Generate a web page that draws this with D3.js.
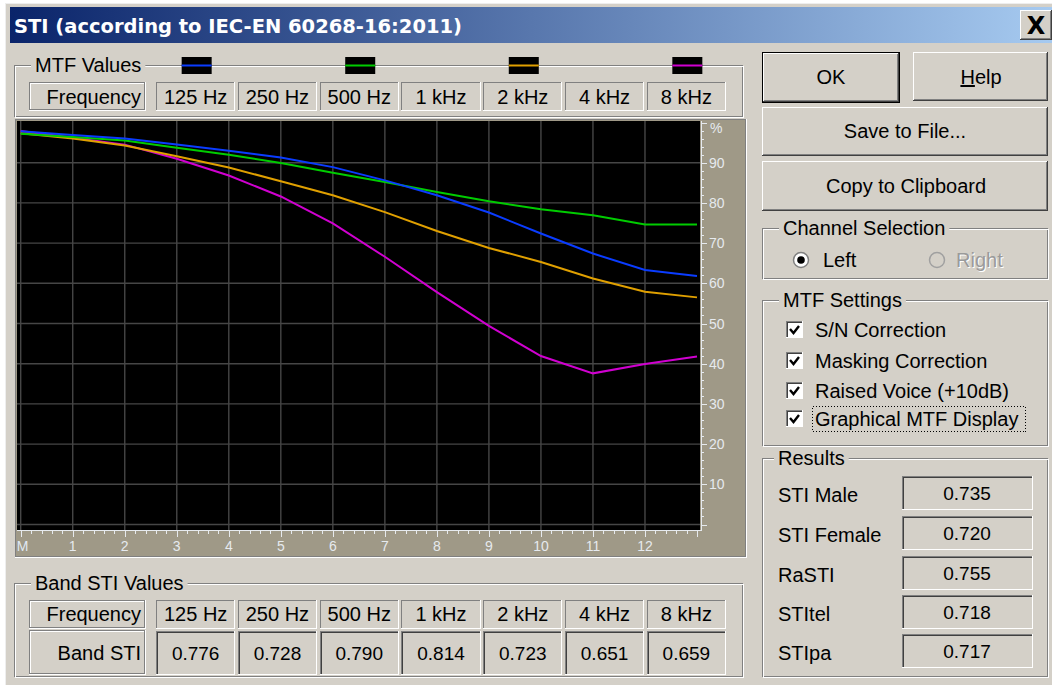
<!DOCTYPE html>
<html><head><meta charset="utf-8">
<script src="https://cdn.jsdelivr.net/npm/d3@7"></script>
<style>
html,body{margin:0;padding:0;background:#fff;overflow:hidden;}
svg{display:block;font-family:"Liberation Sans",Arial,sans-serif;}
</style></head><body>
<svg id="c" width="1052" height="685"></svg>
<script>
// ---------------- DATA ----------------
const titleText = "STI (according to IEC-EN 60268-16:2011)";
const bandLabels = ["125 Hz","250 Hz","500 Hz","1 kHz","2 kHz","4 kHz","8 kHz"];
const modIndex = [0,1,2,3,4,5,6,7,8,9,10,11,12,13];
const modTickLabels = ["M","1","2","3","4","5","6","7","8","9","10","11","12"];
const mtf125 = [97.8,96.9,96.0,94.5,93.0,91.3,88.9,85.6,81.9,77.6,72.4,67.4,63.3,61.8];
const mtf500 = [97.2,96.4,95.5,93.7,92.0,89.9,87.5,85.2,82.7,80.4,78.4,76.9,74.6,74.6];
const mtf2k  = [97.3,96.0,94.3,91.6,88.8,85.4,81.9,77.7,73.0,68.8,65.3,61.2,57.9,56.5];
const mtf8k  = [97.9,96.2,94.5,91.0,86.8,81.6,74.9,66.6,57.8,49.4,41.9,37.6,39.9,41.8];
const seriesBands = ["125 Hz","500 Hz","2 kHz","8 kHz"];
const yTickValues = [10,20,30,40,50,60,70,80,90];
const bandSTI = [0.776,0.728,0.790,0.814,0.723,0.651,0.659];
const resultLabels = ["STI Male","STI Female","RaSTI","STItel","STIpa"];
const resultValues = [0.735,0.720,0.755,0.718,0.717];
const mtfOptions = ["S/N Correction","Masking Correction","Raised Voice (+10dB)","Graphical MTF Display"];

// ---------------- STYLE ----------------
const seriesColors = ["#0a3cff","#00cc00","#e0a000","#d000d0"];
const BG = "#d4d0c8", GR = "#808080", DG = "#404040", WH = "#ffffff";
const BEIGE = "#9f9987", AXC = "#e6eaee";
const FONT = 20;

const svg = d3.select("#c");
const g = svg.append("g");

function hl(x1,x2,y,c,p){ (p||g).append("line").attr("x1",x1).attr("x2",x2).attr("y1",y).attr("y2",y).attr("stroke",c).attr("stroke-width",1).attr("shape-rendering","crispEdges"); }
function vl(x,y1,y2,c,p){ (p||g).append("line").attr("x1",x).attr("x2",x).attr("y1",y1).attr("y2",y2).attr("stroke",c).attr("stroke-width",1).attr("shape-rendering","crispEdges"); }
function rect(x,y,w,h,fill,p){ return (p||g).append("rect").attr("x",x).attr("y",y).attr("width",w).attr("height",h).attr("fill",fill); }
function text(x,y,s,opts){
  opts = opts||{};
  const t = (opts.p||g).append("text").attr("x",x).attr("y",y).text(s)
    .attr("font-size",opts.size||FONT).attr("fill",opts.fill||"#000")
    .attr("text-anchor",opts.anchor||"start");
  if(opts.family) t.attr("font-family",opts.family);
  if(opts.weight) t.attr("font-weight",opts.weight);
  return t;
}
function raised(x,y,w,h,dflt){
  rect(x,y,w,h,BG);
  if(dflt){
    g.append("rect").attr("x",x+0.5).attr("y",y+0.5).attr("width",w-1).attr("height",h-1).attr("fill","none").attr("stroke","#000");
    x+=1;y+=1;w-=2;h-=2;
  }
  hl(x,x+w-1,y+0.5,WH); vl(x+0.5,y,y+h-1,WH);
  hl(x,x+w,y+h-0.5,DG); vl(x+w-0.5,y,y+h,DG);
  hl(x+1,x+w-1,y+h-1.5,GR); vl(x+w-1.5,y+1,y+h-1,GR);
}
function sunken(x,y,w,h,fill){
  rect(x,y,w,h,fill);
  hl(x,x+w,y+0.5,GR); vl(x+0.5,y,y+h,GR);
  hl(x+1,x+w-1,y+1.5,DG); vl(x+1.5,y+1,y+h-1,DG);
  hl(x,x+w,y+h-0.5,WH); vl(x+w-0.5,y,y+h,WH);
}
function thinCell(x,y,w,h,inner){
  hl(x,x+w,y+0.5,GR); vl(x+0.5,y,y+h,GR);
  hl(x,x+w,y+h-0.5,WH); vl(x+w-0.5,y,y+h,WH);
  if(inner){ hl(x+1,x+w-1,y+1.5,WH); vl(x+1.5,y+1,y+h-1,WH); hl(x+1,x+w-1,y+h-1.5,GR); vl(x+w-1.5,y+1,y+h-1,GR);}
}
function groupBox(x,y,w,h,label,lx){
  g.append("rect").attr("x",x+0.5).attr("y",y+0.5).attr("width",w-2).attr("height",h-2).attr("fill","none").attr("stroke",GR);
  g.append("rect").attr("x",x+1.5).attr("y",y+1.5).attr("width",w-2).attr("height",h-2).attr("fill","none").attr("stroke",WH);
  const t = text(lx,y+7,label);
  const bb = t.node().getBBox();
  g.insert("rect", function(){return t.node();}).attr("x",bb.x-4).attr("y",bb.y).attr("width",bb.width+8).attr("height",bb.height).attr("fill",BG);
}

// ---------------- WINDOW ----------------
rect(5,3,1047,682,BG);
hl(5,1052,3.5,"#eeeeee"); vl(5.5,3,685,"#eeeeee");
const grad = svg.append("defs").append("linearGradient").attr("id","tb").attr("x1","0").attr("x2","1").attr("y1","0").attr("y2","0");
grad.append("stop").attr("offset","0").attr("stop-color","#0a246a");
grad.append("stop").attr("offset","1").attr("stop-color","#a6caf0");
rect(10,7,1042,36,"url(#tb)");
text(14,33,titleText,{fill:"#fff",weight:"bold",size:20,family:"DejaVu Sans"})
  .attr("textLength",448).attr("lengthAdjust","spacingAndGlyphs");
raised(1020,10,32,30,false);
text(1036,34,"X",{weight:"bold",size:24,anchor:"middle",family:"DejaVu Sans"});

// ---------------- MTF VALUES HEADER ----------------
groupBox(14,65,730,53,"MTF Values",35);
const bandX = d3.scaleBand().domain(bandLabels).range([156,726]).paddingInner(0.03);
seriesBands.forEach((b,i)=>{
  const cx = bandX(b)+bandX.bandwidth()/2;
  rect(cx-14,57,30,17,"#000");
  g.append("line").attr("x1",cx-14).attr("x2",cx+16).attr("y1",65.5).attr("y2",65.5).attr("stroke",seriesColors[i]).attr("stroke-width",2);
});
thinCell(29,82,117,29,true);
text(141,104,"Frequency",{anchor:"end"});
bandLabels.forEach(b=>{
  thinCell(bandX(b),82,bandX.bandwidth(),29);
  text(bandX(b)+bandX.bandwidth()/2,104,b,{anchor:"middle"});
});

// ---------------- CHART ----------------
rect(16,120,729,436,BEIGE);
hl(15,746,119.5,GR); vl(15.5,119,557,GR);
hl(15,746,556.5,GR); vl(745.5,119,557,GR);
hl(15,747,557.5,WH); vl(746.5,119,558,WH);
const PL=17, PR=700, PT=121, PB=530;
rect(PL,PT,PR-PL,PB-PT,"#000");
const x = d3.scaleLinear().domain([0,13]).range([20.7,697]);
const y = d3.scaleLinear().domain([0,100]).range([524.5,122.5]);
const grid = g.append("g");
d3.range(0,13).forEach(i=>{
  grid.append("line").attr("x1",x(i)).attr("x2",x(i)).attr("y1",PT).attr("y2",PB).attr("stroke","#464646").attr("stroke-width",1.4);
});
[0].concat(yTickValues).forEach(v=>{
  grid.append("line").attr("x1",PL).attr("x2",PR).attr("y1",y(v)).attr("y2",y(v)).attr("stroke","#464646").attr("stroke-width",1.4);
});
svg.append("defs").append("clipPath").attr("id","pc").append("rect").attr("x",PL).attr("y",PT).attr("width",PR-PL+1).attr("height",PB-PT);
const lineGen = d3.line().x((d,i)=>x(modIndex[i])).y(d=>y(d));
const lines = g.append("g").attr("clip-path","url(#pc)");
[[mtf8k,3],[mtf2k,2],[mtf500,1],[mtf125,0]].forEach(([s,ci])=>{
  lines.append("path").datum(s).attr("d",lineGen).attr("fill","none").attr("stroke",seriesColors[ci]).attr("stroke-width",2);
});

// bottom axis
const bAxis = g.append("g");
hl(PL,PR+2,PB+0.5,AXC,bAxis);
d3.range(0,13.001,0.2).forEach(v=>{
  const major = Math.abs(v-Math.round(v))<1e-6;
  vl(Math.round(x(v))+0.5,PB+1,PB+(major?7:4),AXC,bAxis);
});
modTickLabels.forEach((l,i)=>{
  text(x(i)+(i===0?2:0),551,l,{anchor:"middle",size:14,fill:i===0?"#dfe8f4":AXC,p:bAxis});
});
// right axis
const rAxis = g.append("g");
vl(PR+1.5,PT,PB+1,AXC,rAxis);
d3.range(0,101,2).forEach(v=>{
  const major = v%10===0;
  hl(PR+2,PR+(major?7:4),Math.round(y(v))+0.5,AXC,rAxis);
});
yTickValues.forEach(v=>{ text(709,y(v)+5,String(v),{size:14,fill:AXC,p:rAxis}); });
text(710,133,"%",{size:14,fill:AXC,p:rAxis});

// ---------------- BAND STI VALUES ----------------
groupBox(14,583,730,95,"Band STI Values",35);
thinCell(29,600,117,29,true);
text(141,621,"Frequency",{anchor:"end"});
thinCell(29,630,117,45,true);
text(141,660,"Band STI",{anchor:"end"});
bandLabels.forEach((b,i)=>{
  thinCell(bandX(b),600,bandX.bandwidth(),29);
  text(bandX(b)+bandX.bandwidth()/2,621,b,{anchor:"middle"});
  sunken(bandX(b),631,bandX.bandwidth(),44,BG);
  text(bandX(b)+bandX.bandwidth()/2,660,bandSTI[i].toFixed(3),{anchor:"middle",size:19});
});

// ---------------- RIGHT PANEL ----------------
raised(762,52,138,51,true);
text(831,84,"OK",{anchor:"middle"});
raised(913,52,135,49,false);
const help = text(981,84,"",{anchor:"middle"});
help.append("tspan").attr("text-decoration","underline").text("H");
help.append("tspan").text("elp");
raised(762,107,286,49,false);
text(905,138,"Save to File...",{anchor:"middle"});
raised(762,161,286,50,false);
text(906,193,"Copy to Clipboard",{anchor:"middle"});

groupBox(762,228,287,52,"Channel Selection",783);
g.append("circle").attr("cx",801).attr("cy",260).attr("r",7.5).attr("fill","#fff").attr("stroke",GR).attr("stroke-width",1.5);
g.append("circle").attr("cx",801).attr("cy",260).attr("r",3.8).attr("fill","#000");
text(823,267,"Left");
g.append("circle").attr("cx",937).attr("cy",260).attr("r",7.5).attr("fill",BG).attr("stroke","#a0a0a0").attr("stroke-width",1.5);
text(957,268,"Right",{fill:WH});
text(956,267,"Right",{fill:"#9a9a9a"});

groupBox(762,300,287,147,"MTF Settings",783);
const cbY = [330,361,391,419];
mtfOptions.forEach((o,i)=>{
  sunken(786,cbY[i]-9,17,17,"#fff");
  g.append("path").attr("d",`M790,${cbY[i]-1} L793.5,${cbY[i]+3} L799,${cbY[i]-4}`).attr("fill","none").attr("stroke","#000").attr("stroke-width",2.4);
  text(815,cbY[i]+7,o);
});
g.append("rect").attr("x",812.5).attr("y",406.5).attr("width",213).attr("height",25).attr("fill","none").attr("stroke","#000").attr("stroke-dasharray","1,2").attr("shape-rendering","crispEdges");

groupBox(762,458,287,220,"Results",778);
const resY = [476,516,556,595,634];
resultLabels.forEach((l,i)=>{
  text(778,resY[i]+26,l);
  sunken(902,resY[i],131,34,BG);
  text(967,resY[i]+24,resultValues[i].toFixed(3),{anchor:"middle",size:19});
});
</script>
</body></html>
